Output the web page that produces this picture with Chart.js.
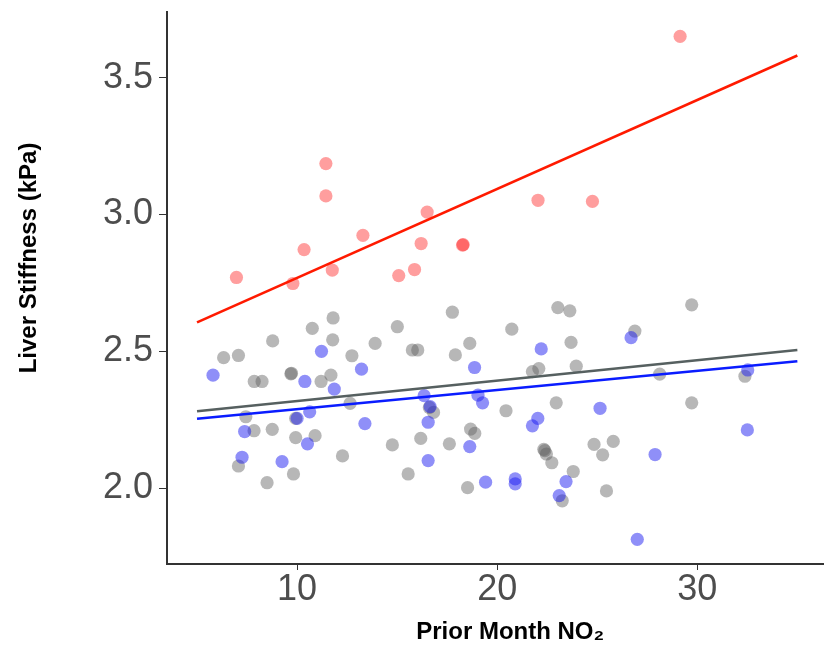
<!DOCTYPE html>
<html>
<head>
<meta charset="utf-8">
<script src="https://cdn.jsdelivr.net/npm/chart.js@4.4.1/dist/chart.umd.min.js"></script>
<style>
  html, body { margin: 0; padding: 0; background: #fff; overflow: hidden; }
  #wrap { width: 824px; height: 650px; overflow: hidden; }
  #box { width: 860px; height: 650px; }
</style>
</head>
<body>
<div id="wrap"><div id="box"><canvas id="grafico"></canvas></div></div>
<script>
// tick labels
const xTicks = [10, 20, 30];
const yTicks = [2.0, 2.5, 3.0, 3.5];

// red group
const redX = [29.14, 11.44, 11.44, 10.35, 13.29, 16.5, 16.2, 18.27, 18.3, 15.87, 15.08, 11.76, 6.97, 22.04, 24.76, 9.79];
const redY = [3.651, 3.186, 3.068, 2.872, 2.924, 3.009, 2.894, 2.888, 2.89, 2.799, 2.777, 2.797, 2.77, 3.052, 3.048, 2.748];

// gray group
const grayX = [6.33, 7.07, 8.78, 7.86, 8.25, 9.69, 9.72, 10.76, 11.8, 11.78, 11.69, 11.2, 12.74, 13.9, 15.01, 15.76, 16.03,
  17.76, 17.91, 18.63, 20.73, 23.03, 23.63, 23.69, 26.88, 29.72, 23.95, 22.08, 21.76, 28.12, 32.38, 29.72, 22.95, 20.44,
  16.82, 16.61, 12.65, 7.44, 7.85, 8.76, 9.93, 10.9, 9.93, 12.27, 14.76, 16.18, 17.61, 18.67, 18.88, 22.33, 22.38, 22.46,
  22.73, 24.84, 25.27, 25.8, 23.8, 23.25, 25.46, 18.52, 15.55, 9.82, 8.5, 7.07];
const grayY = [2.477, 2.485, 2.538, 2.39, 2.39, 2.418, 2.42, 2.584, 2.622, 2.542, 2.413, 2.39, 2.484, 2.529, 2.59, 2.505, 2.505,
  2.643, 2.487, 2.529, 2.581, 2.66, 2.648, 2.533, 2.574, 2.67, 2.446, 2.437, 2.426, 2.417, 2.409, 2.312, 2.312, 2.283,
  2.277, 2.295, 2.31, 2.261, 2.21, 2.215, 2.185, 2.192, 2.255, 2.118, 2.158, 2.182, 2.162, 2.216, 2.2, 2.142, 2.137, 2.125,
  2.093, 2.16, 2.122, 2.171, 2.061, 1.954, 1.99, 2.002, 2.052, 2.052, 2.02, 2.081];

// blue group
const blueX = [5.8, 11.22, 10.39, 11.86, 13.22, 10.63, 10.0, 7.38, 7.25, 9.25, 10.52, 13.39, 16.35, 16.65, 16.55, 16.55,
  18.87, 19.04, 19.27, 18.63, 19.42, 22.2, 22.03, 21.76, 20.9, 20.9, 23.44, 23.1, 25.14, 26.69, 27.89, 32.52, 32.5, 27.0];
const blueY = [2.413, 2.5, 2.39, 2.362, 2.435, 2.279, 2.255, 2.207, 2.113, 2.097, 2.162, 2.236, 2.338, 2.298, 2.241, 2.101,
  2.441, 2.34, 2.312, 2.152, 2.022, 2.509, 2.255, 2.228, 2.034, 2.016, 2.024, 1.973, 2.292, 2.55, 2.123, 2.432, 2.213, 1.813];

// fitted lines (ends)
const fitX = [5, 35];
const redFit = [2.606, 3.581];
const grayFit = [2.281, 2.505];
const blueFit = [2.254, 2.464];

const pts = (xs, ys) => xs.map((x, i) => ({ x: x, y: ys[i] }));

const dots = (data, color, order) => ({
  type: 'scatter', data: data, backgroundColor: color, borderWidth: 0,
  pointRadius: 6.6, pointHoverRadius: 6.6, order: order
});
const fit = (ys, color) => ({
  type: 'line', data: pts(fitX, ys), borderColor: color, borderWidth: 2.6,
  pointRadius: 0, fill: false, tension: 0, order: 0
});

const tickFont = { family: 'Liberation Sans, Arial, sans-serif', size: 36, lineHeight: 1 };
const titleFont = { family: 'Liberation Sans, Arial, sans-serif', size: 24, weight: 'bold' };

new Chart(document.getElementById('grafico').getContext('2d'), {
  type: 'scatter',
  data: {
    datasets: [
      fit(redFit, '#ff1a00'),
      fit(grayFit, '#566060'),
      fit(blueFit, '#0a1cff'),
      dots(pts(blueX, blueY), 'rgba(20,20,240,0.48)', 1),
      dots(pts(grayX, grayY), 'rgba(95,95,95,0.45)', 2),
      dots(pts(redX, redY), 'rgba(255,40,40,0.45)', 3)
    ]
  },
  options: {
    responsive: true,
    maintainAspectRatio: false,
    animation: false,
    layout: { padding: { top: 12, left: 0, right: 0, bottom: 0 } },
    plugins: { legend: { display: false }, tooltip: { enabled: false } },
    scales: {
      x: {
        type: 'linear', min: 3.5, max: 37.8,
        afterBuildTicks: s => { s.ticks = xTicks.map(v => ({ value: v })); },
        afterFit: s => { s.height = 86; s.paddingLeft = 0; s.paddingRight = 0; },
        grid: { drawOnChartArea: false, drawTicks: true, tickLength: 6, color: '#333' },
        border: { display: true, color: '#333', width: 2 },
        ticks: { font: tickFont, color: '#4d4d4d', padding: 2, maxRotation: 0 },
        title: { display: true, text: 'Prior Month NO\u2082', font: titleFont, color: '#000', padding: { top: 0, bottom: 3 } }
      },
      y: {
        type: 'linear', min: 1.723, max: 3.74,
        afterBuildTicks: s => { s.ticks = yTicks.map(v => ({ value: v })); },
        afterFit: s => { s.width = 167; s.paddingTop = 0; s.paddingBottom = 0; },
        grid: { drawOnChartArea: false, drawTicks: true, tickLength: 8, color: '#333' },
        border: { display: true, color: '#333', width: 2 },
        ticks: { font: tickFont, color: '#4d4d4d', padding: 6, callback: v => v.toFixed(1) },
        title: { display: true, text: '         Liver Stiffness (kPa)', font: titleFont, color: '#000', padding: { top: 15, bottom: 0 } }
      }
    }
  }
});
</script>
</body>
</html>
